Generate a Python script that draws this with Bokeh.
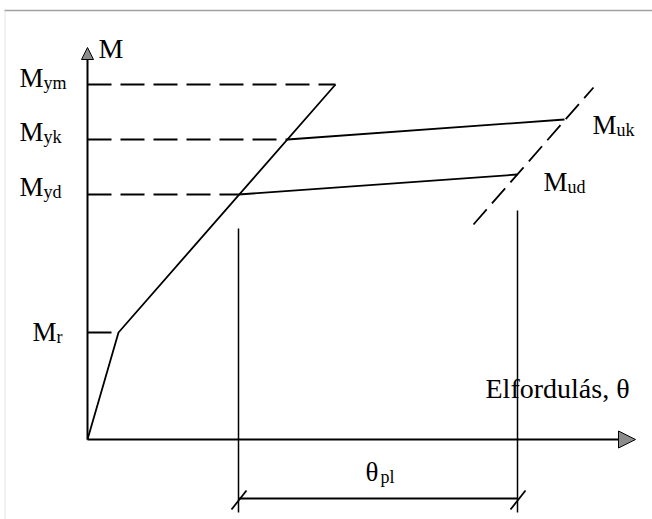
from bokeh.plotting import figure
from bokeh.models import Range1d, Arrow, NormalHead
from bokeh.core.properties import value
from bokeh.embed import file_html
from bokeh.resources import INLINE

# ---- diagram data (moment M vs. rotation theta, arbitrary units) ----
M_r, theta_r = 1.07, 0.31
M_yd, theta_yd = 2.45, 1.51
M_yk, theta_yk = 3.00, 2.00
M_ym, theta_ym = 3.55, 2.48
M_ud, theta_ud = 2.65, 4.30
M_uk, theta_uk = 3.20, 4.77

elastic_theta = [0.0, theta_r, theta_ym]
elastic_M = [0.0, M_r, M_ym]
design_theta = [theta_yd, theta_ud]
design_M = [M_yd, M_ud]
charact_theta = [theta_yk, theta_uk]
charact_M = [M_yk, M_uk]
ultimate_theta = [3.86, 5.06]
ultimate_M = [2.15, 3.52]

level_M = [M_r, M_yd, M_yk, M_ym]
level_theta = [theta_r, theta_yd, theta_yk, theta_ym]

vert_theta = [theta_yd, theta_ud]
vert_top = [2.11, 2.29]
vert_bottom = -0.73
dim_M = -0.59

axis_theta_end = 5.48
axis_M_end = 3.92

left_main = ["M", "M", "M", "M"]
left_sub = ["r", "yd", "yk", "ym"]

X0, X1 = -0.87, 5.65
Y0, Y1 = -0.80, 4.39

p = figure(width=652, height=519, output_backend="svg", toolbar_location=None,
           x_range=Range1d(X0, X1), y_range=Range1d(Y0, Y1),
           min_border=0, outline_line_color=None)
p.axis.visible = False
p.grid.visible = False
p.background_fill_color = "white"

# frame border
p.line([-0.83, X1], [4.29, 4.29], line_color="#a0a0a0", line_width=1.5)
p.line([-0.825, -0.825], [4.29, Y0], line_color="#c8c8c8", line_width=1, line_dash="1 1")

# axes with arrows
p.add_layout(Arrow(end=NormalHead(size=17, fill_color="#8c8c8c", line_color="black", line_width=1),
                   x_start=0, y_start=0, x_end=axis_theta_end, y_end=0,
                   line_width=2, line_color="black"))
p.add_layout(Arrow(end=NormalHead(size=12, fill_color="#8c8c8c", line_color="black", line_width=1),
                   x_start=0, y_start=0, x_end=0, y_end=axis_M_end,
                   line_width=2, line_color="black"))

# curves
p.line(elastic_theta, elastic_M, line_color="black", line_width=1.8)
p.line(design_theta, design_M, line_color="black", line_width=1.8)
p.line(charact_theta, charact_M, line_color="black", line_width=1.8)
p.line(ultimate_theta, ultimate_M, line_color="black", line_width=1.8, line_dash="20 8")

# horizontal dashed levels
p.multi_line([[0, t] for t in level_theta], [[m, m] for m in level_M],
             line_color="black", line_width=1.8, line_dash="24 9")

# verticals and dimension line
p.multi_line([[t, t] for t in vert_theta], [[top, vert_bottom] for top in vert_top],
             line_color="black", line_width=1.5)
p.line(vert_theta, [dim_M, dim_M], line_color="black", line_width=1.8)
p.multi_line([[t - 0.07, t + 0.08] for t in vert_theta],
             [[dim_M - 0.11, dim_M + 0.08] for t in vert_theta],
             line_color="black", line_width=1.8)

font = value("Liberation Serif")
TS = 0.09  # baseline correction

# left labels
main_x = [-0.55, -0.68, -0.68, -0.68]
main_y = [M_r - 0.08 + TS, M_yd - 0.01 + TS, M_yk - 0.01 + TS, M_ym - 0.02 + TS]
p.text(x=main_x, y=main_y, text=left_main, text_font=font, text_font_size="27px",
       text_baseline="alphabetic", text_align="left", text_color="black")
p.text(x=[x + 0.24 for x in main_x], y=[y - 0.05 for y in main_y], text=left_sub,
       text_font=font, text_font_size="18px", text_baseline="alphabetic",
       text_align="left", text_color="black")

# right labels
r_x = [theta_uk + 0.28, theta_ud + 0.26]
r_y = [M_uk - 0.14 + TS, M_ud - 0.16 + TS]
p.text(x=r_x, y=r_y, text=["M", "M"], text_font=font, text_font_size="27px",
       text_baseline="alphabetic", text_align="left", text_color="black")
p.text(x=[x + 0.24 for x in r_x], y=[y - 0.05 for y in r_y], text=["uk", "ud"],
       text_font=font, text_font_size="18px", text_baseline="alphabetic",
       text_align="left", text_color="black")

# axis labels
p.text(x=[0.11], y=[3.82 + TS], text=["M"], text_font=font, text_font_size="28px",
       text_baseline="alphabetic", text_align="left", text_color="black")
p.text(x=[3.98], y=[0.42 + TS], text=["Elfordulás, θ"], text_font=font, text_font_size="28px",
       text_baseline="alphabetic", text_align="left", text_color="black")
p.text(x=[2.78], y=[-0.41 + TS], text=["θ"], text_font=font, text_font_size="27px",
       text_baseline="alphabetic", text_align="left", text_color="black")
p.text(x=[2.93], y=[-0.46 + TS], text=["pl"], text_font=font, text_font_size="18px",
       text_baseline="alphabetic", text_align="left", text_color="black")

open("out.html", "w").write(file_html(p, INLINE))
